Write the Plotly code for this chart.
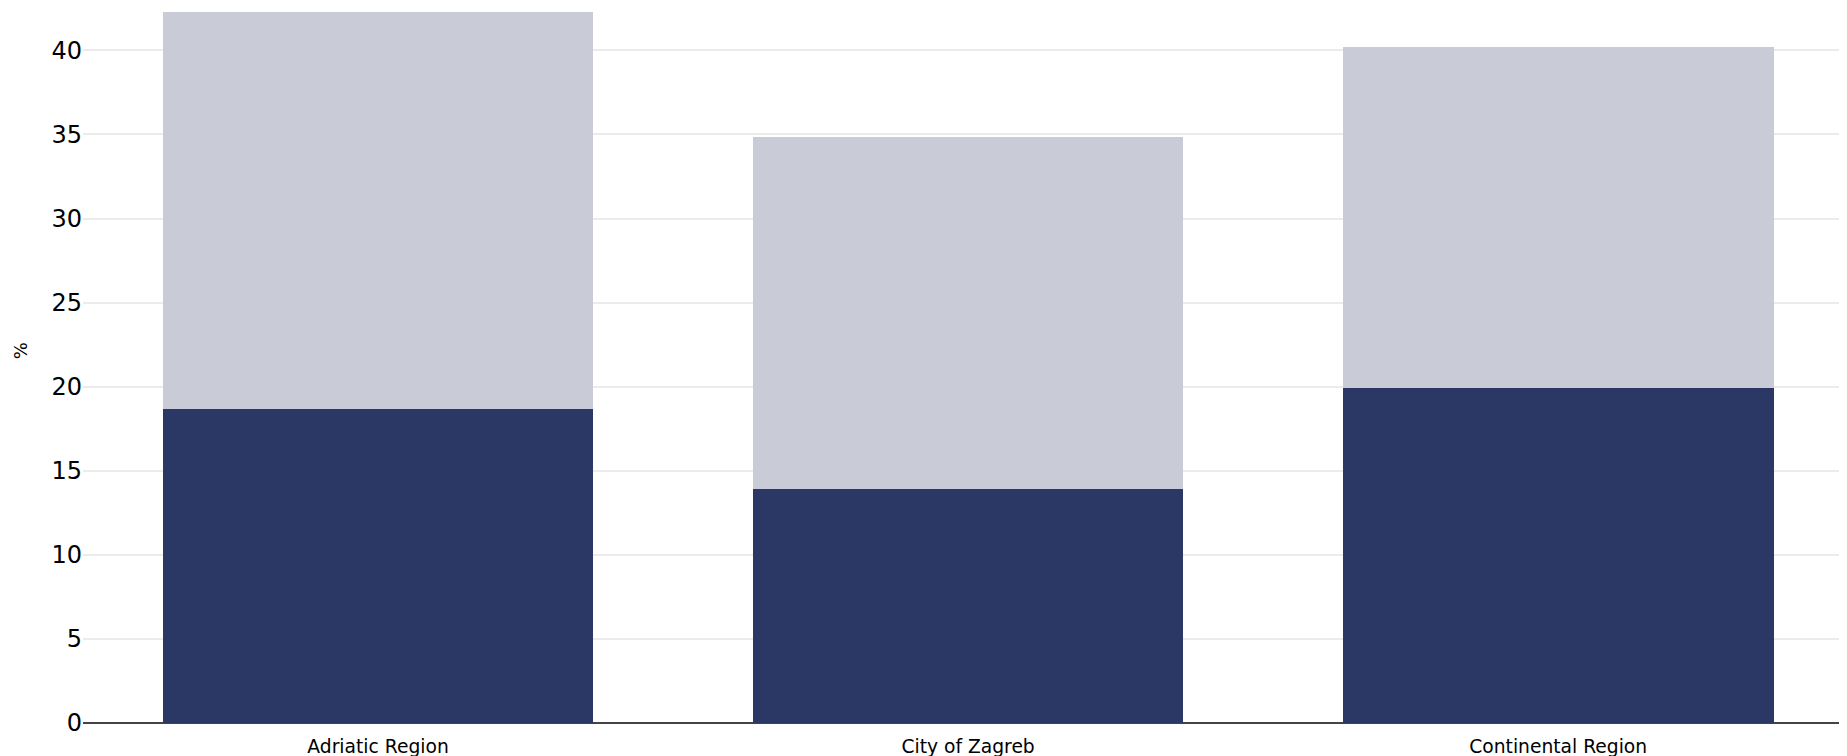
import plotly.graph_objects as go

categories = ["Adriatic Region", "City of Zagreb", "Continental Region"]
series_dark = [18.7, 13.9, 19.9]
series_light = [23.6, 20.95, 20.3]
y_tick_values = [0, 5, 10, 15, 20, 25, 30, 35, 40]

DARK = "#2B3764"
LIGHT = "#C9CBD7"
FONT = "DejaVu Sans"

fig = go.Figure()
fig.add_trace(go.Bar(x=categories, y=series_dark, name="Series 1",
                     marker=dict(color=DARK, line=dict(width=0))))
fig.add_trace(go.Bar(x=categories, y=series_light, name="Series 2",
                     marker=dict(color=LIGHT, line=dict(width=0))))

fig.update_layout(
    width=1847, height=756,
    barmode="stack", bargap=0.27,
    showlegend=False,
    paper_bgcolor="white", plot_bgcolor="white",
    margin=dict(l=75, r=0, t=4, b=41),
    font=dict(family=FONT, color="black"),
    xaxis=dict(
        range=[-0.5, 2.503],
        showline=False, showgrid=False, zeroline=False,
        ticks="outside", ticklen=7, tickcolor="rgba(0,0,0,0)",
        tickfont=dict(family=FONT, size=18.7, color="black"),
    ),
    yaxis=dict(
        range=[0, 42.28],
        tickvals=y_tick_values,
        showgrid=True, gridcolor="#EBEBEB", gridwidth=2,
        zeroline=True, zerolinecolor="#444444", zerolinewidth=2,
        showline=False, ticks="",
        tickfont=dict(family=FONT, size=24, color="black"),
    ),
    annotations=[dict(
        text="%", textangle=-90, showarrow=False,
        xref="paper", yref="paper", x=0, y=0.523,
        xanchor="center", yanchor="middle", xshift=-63,
        font=dict(family=FONT, size=18, color="black"),
    )],
)

fig.write_html("out.html")
